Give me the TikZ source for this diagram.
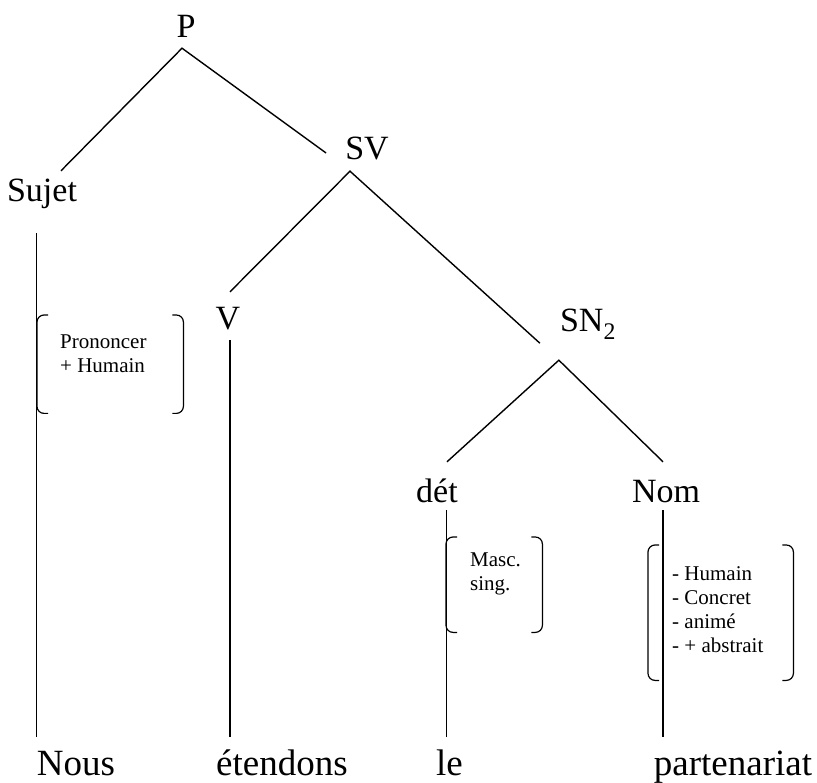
\documentclass[tikz,border=0pt]{standalone}
\usepackage{fontspec}
\setmainfont{Liberation Serif}
\usetikzlibrary{calc}

\tikzset{
  cat/.style={inner sep=0, anchor=base, font=\fontsize{34}{40}\selectfont, text height=23pt, text depth=7pt},
  word/.style={inner sep=0, anchor=base, font=\fontsize{37}{44}\selectfont, text height=26pt, text depth=8pt},
  feat/.style={inner sep=0, anchor=north west, align=left, font=\fontsize{21}{24}\selectfont},
  featbox/.style={inner sep=0, anchor=north west},
  branch/.style={line width=1.4pt},
  brk/.style={line width=1.2pt, rounded corners=7pt}
}

\begin{document}
\begin{tikzpicture}[x=1pt, y=-1pt]
\useasboundingbox (0,0) rectangle (817,783);

\node[cat] (P) at (186,38) {P};
\node[cat] (Sujet) at (42,202) {Sujet};
\node[cat] (SV) at (367,160) {SV};
\node[cat] (V) at (228,330) {V};
\node[cat] (SN) at (588,332) {SN\textsubscript{2}};
\node[cat] (det) at (437,502) {dét};
\node[cat] (Nom) at (666,502) {Nom};

\node[word] (Nous) at (76,775) {Nous};
\node[word] (etendons) at (282,775) {étendons};
\node[word] (le) at (449.5,775) {le};
\node[word] (partenariat) at (733,775) {partenariat};

\draw[branch] ($(Sujet.north)+(19,-8)$) -- ($(P.south)+(-4,3)$) -- ($(SV.west)+(-19,1)$);
\draw[branch] ($(V.north)+(2,-15)$) -- ($(SV.south)+(-17,4)$) -- ($(SN.south west)+(-20,4)$);
\draw[branch] ($(det.north)+(10,-17)$) -- ($(SN.south west)+(-1,21)$) -- ($(Nom.north)+(-3,-17)$);

\draw[branch] ($(Sujet.south -| Nous.west)+(0,24)$) -- ($(Nous.north west)+(0,-12)$);
\draw[branch] ($(V.south)+(2,3)$) -- ($(etendons.north -| V.south)+(2,-12)$);
\draw[branch] ($(le.north |- det.south)+(-3,1)$) -- ($(le.north)+(-3,-12)$);
\draw[branch] ($(Nom.south)+(-3,1)$) -- ($(Nom.south |- partenariat.north)+(-3,-12)$);

\node[featbox, minimum width=146pt, minimum height=98pt] (fb1) at (37,315) {};
\node[featbox, minimum width=96pt, minimum height=95pt] (fb2) at (446,537) {};
\node[featbox, minimum width=145pt, minimum height=135pt] (fb3) at (648,545) {};

\node[feat] (f1) at (60,335) {Prononcer\\+ Humain};
\node[feat] (f2) at (470,553) {Masc.\\sing.};
\node[feat] (f3) at (672,566) {- Humain\\- Concret\\- animé\\- + abstrait};

\foreach \b in {fb1,fb2,fb3} {
  \draw[brk] ($(\b.north west)+(11,0)$) -- (\b.north west) -- (\b.south west) -- ++(11,0);
  \draw[brk] ($(\b.north east)+(-11,0)$) -- (\b.north east) -- (\b.south east) -- ++(-11,0);
}

\end{tikzpicture}
\end{document}
